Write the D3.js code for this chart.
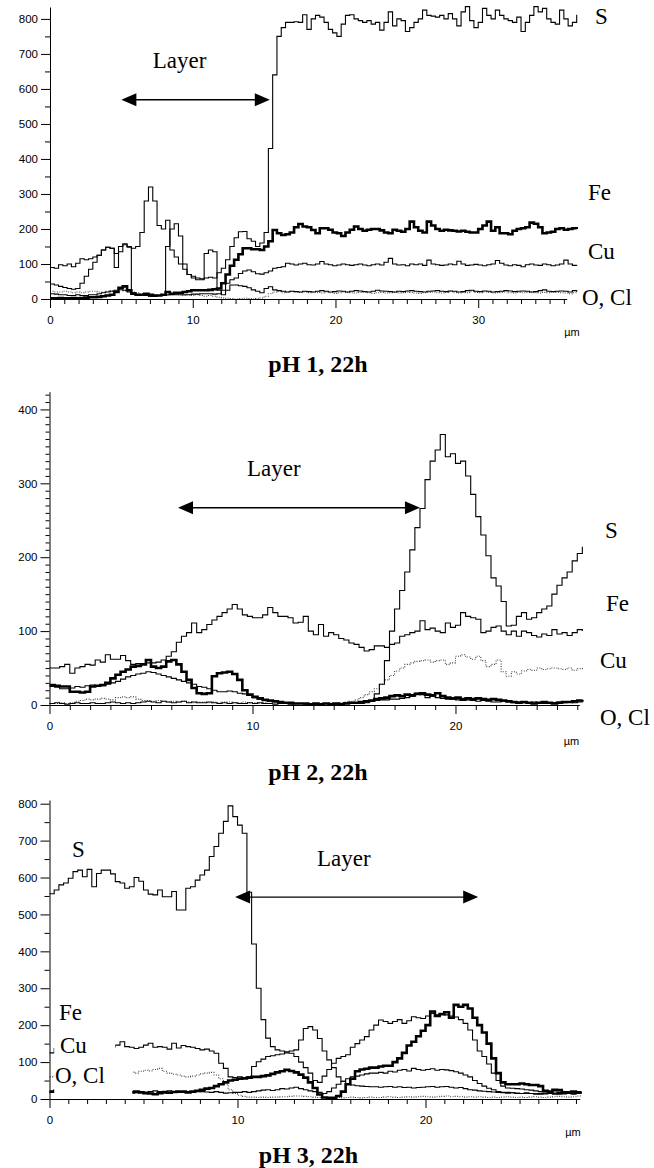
<!DOCTYPE html>
<html>
<head>
<meta charset="utf-8">
<script src="https://cdn.jsdelivr.net/npm/d3@7"></script>
<style>
  html, body { margin: 0; padding: 0; background: #fff; }
</style>
</head>
<body>
<div id="container"></div>
<script>
const width = 654, height = 1168;

// --- Data: EDX line scans, counts vs. distance (µm) ---
// pH 1 panel, sampled every 0.3 µm
const P1_DX = 0.3;
const P1_S = [90, 88, 98, 95, 100, 92, 102, 115, 112, 115,
  120, 125, 140, 148, 145, 130, 150, 155, 148, 145,
  150, 190, 280, 320, 280, 210, 200, 225, 140, 120,
  100, 85, 70, 65, 60, 58, 60, 62, 60, 75,
  88, 112, 150, 175, 192, 193, 172, 165, 150, 160,
  190, 430, 640, 750, 775, 790, 790, 792, 790, 812,
  770, 800, 810, 805, 790, 770, 760, 750, 785, 810,
  812, 800, 795, 790, 795, 785, 790, 768, 790, 820,
  780, 800, 795, 764, 775, 790, 800, 825, 810, 808,
  805, 810, 800, 815, 800, 780, 820, 835, 795, 775,
  790, 830, 810, 800, 825, 810, 800, 795, 790, 805,
  764, 790, 810, 835, 820, 830, 800, 790, 785, 825,
  800, 780, 790, 812];
const P1_FE = [2, 2, 3, 2, 2, 3, 2, 3, 4, 5,
  5, 6, 8, 10, 12, 20, 32, 36, 25, 15,
  12, 12, 15, 12, 10, 10, 12, 20, 15, 18,
  18, 20, 22, 25, 25, 25, 25, 26, 28, 30,
  45, 70, 95, 112, 128, 145, 145, 142, 142, 140,
  150, 165, 197, 188, 183, 185, 190, 205, 214, 207,
  205, 197, 188, 202, 202, 198, 190, 188, 180, 190,
  198, 207, 200, 195, 198, 200, 200, 196, 190, 188,
  198, 195, 192, 200, 221, 205, 195, 190, 221, 210,
  200, 195, 198, 196, 195, 193, 195, 192, 190, 190,
  200, 210, 221, 195, 205, 188, 188, 185, 195, 200,
  202, 205, 218, 215, 205, 188, 190, 192, 200, 202,
  198, 200, 202, 200];
const P1_CU = [15, 14, 12, 12, 10, 10, 12, 10, 10, 12,
  12, 15, 18, 20, 22, 25, 28, 25, 20, 15,
  12, 10, 10, 8, 8, 10, 10, 12, 12, 12,
  12, 12, 12, 14, 14, 15, 15, 15, 14, 15,
  25, 45, 55, 60, 73, 80, 83, 78, 72, 71,
  75, 80, 88, 90, 92, 102, 100, 97, 100, 102,
  98, 97, 100, 107, 100, 98, 95, 97, 100, 98,
  96, 98, 100, 97, 95, 98, 100, 97, 105, 116,
  100, 97, 98, 95, 100, 98, 100, 96, 111, 100,
  98, 96, 97, 100, 98, 108, 100, 96, 97, 99,
  97, 95, 98, 100, 110, 102, 97, 95, 98, 96,
  92, 98, 100, 97, 96, 100, 98, 95, 97, 100,
  111, 100, 96, 95];
const P1_O = [22, 20, 20, 22, 20, 18, 20, 18, 20, 22,
  22, 20, 20, 22, 24, 22, 25, 24, 22, 20,
  18, 15, 12, 10, 12, 10, 12, 10, 12, 14,
  12, 10, 12, 10, 12, 10, 8, 10, 8, 5,
  3, 2, 1, 0, 1, 2, 1, 0, 1, 3,
  8, 15, 20, 22, 18, 20, 22, 20, 19, 20,
  18, 20, 19, 17, 20, 18, 16, 18, 20, 19,
  18, 17, 19, 20, 18, 16, 18, 19, 17, 18,
  19, 17, 18, 20, 19, 17, 16, 18, 19, 20,
  18, 17, 19, 21, 18, 17, 19, 18, 22, 19,
  18, 20, 19, 17, 18, 19, 20, 18, 17, 19,
  18, 19, 20, 18, 17, 19, 18, 20, 19, 18,
  17, 15, 18, 19];
const P1_CL = [43, 40, 36, 33, 30, 28, 30, 45, 65, 85,
  105, 125, 140, 148, 145, 90, 135, 158, 150, 18,
  12, 10, 10, 8, 8, 10, 12, 150, 200, 215,
  180, 100, 70, 60, 55, 55, 130, 140, 135, 25,
  12, 25, 40, 40, 38, 36, 32, 26, 22, 18,
  30, 35, 26, 24, 22, 20, 22, 21, 20, 22,
  21, 20, 22, 24, 22, 20, 21, 23, 22, 20,
  22, 24, 23, 21, 20, 22, 25, 23, 22, 21,
  20, 22, 21, 23, 24, 22, 21, 20, 22, 23,
  24, 22, 21, 23, 22, 20, 21, 24, 25, 22,
  21, 23, 22, 20, 21, 22, 24, 23, 21, 22,
  23, 22, 20, 21, 24, 26, 22, 21, 22, 23,
  22, 20, 24, 21];

// pH 2 panel, sampled every 0.25 µm
const P2_DX = 0.25;
const P2_S = [2, 3, 2, 1, 2, 3, 2, 2, 3, 2,
  2, 3, 4, 3, 2, 3, 2, 3, 4, 5,
  4, 3, 5, 4, 3, 4, 5, 3, 4, 3,
  3, 4, 3, 2, 3, 2, 3, 2, 2, 3,
  2, 3, 2, 2, 1, 2, 2, 1, 2, 2,
  1, 2, 2, 1, 2, 1, 2, 2, 3, 2,
  2, 2, 3, 5, 15, 28, 60, 100, 130, 155,
  180, 210, 240, 266, 305, 330, 345, 366, 336, 340,
  327, 330, 310, 285, 255, 230, 202, 172, 161, 140,
  107, 108, 120, 125, 116, 118, 125, 130, 134, 150,
  162, 172, 180, 195, 205, 214];
const P2_FE = [50, 50, 52, 55, 43, 50, 52, 55, 54, 61,
  58, 68, 62, 62, 67, 60, 55, 56, 55, 57,
  57, 58, 61, 66, 72, 85, 93, 98, 111, 98,
  102, 109, 115, 120, 125, 130, 136, 130, 122, 120,
  118, 118, 122, 132, 125, 120, 120, 118, 111, 112,
  120, 100, 95, 109, 93, 98, 95, 90, 88, 84,
  82, 78, 73, 75, 80, 80, 78, 82, 84, 93,
  95, 98, 100, 114, 102, 104, 100, 98, 111, 105,
  108, 125, 120, 118, 116, 98, 100, 105, 107, 100,
  95, 100, 93, 100, 98, 94, 92, 96, 94, 102,
  96, 98, 94, 98, 102, 100];
const P2_CU = [2, 2, 3, 2, 3, 5, 6, 8, 7, 8,
  9, 8, 7, 10, 11, 10, 11, 8, 6, 6,
  5, 6, 5, 4, 5, 4, 5, 4, 3, 4,
  4, 3, 4, 3, 4, 4, 3, 3, 4, 3,
  3, 2, 3, 2, 2, 3, 2, 2, 1, 2,
  2, 1, 2, 2, 2, 3, 2, 3, 4, 5,
  7, 10, 14, 18, 22, 28, 34, 40, 46, 50,
  55, 57, 59, 60, 61, 58, 60, 61, 55, 57,
  66, 68, 65, 62, 66, 60, 52, 55, 61, 45,
  39, 45, 42, 46, 48, 47, 50, 48, 49, 50,
  49, 48, 50, 47, 49, 50];
const P2_O = [27, 26, 25, 25, 18, 18, 17, 18, 25, 26,
  27, 30, 36, 41, 45, 48, 52, 53, 55, 61,
  52, 50, 52, 59, 61, 55, 45, 34, 23, 16,
  15, 16, 39, 43, 44, 45, 42, 34, 20, 14,
  11, 9, 7, 6, 5, 4, 3, 3, 2, 2,
  2, 1, 2, 1, 2, 1, 2, 1, 2, 3,
  3, 4, 5, 6, 8, 9, 10, 12, 13, 12,
  14, 13, 15, 16, 14, 13, 16, 12, 10, 9,
  10, 8, 9, 8, 9, 8, 7, 8, 7, 6,
  5, 4, 3, 4, 3, 2, 3, 4, 3, 2,
  3, 4, 4, 5, 6, 7];
const P2_CL = [25, 24, 22, 22, 23, 25, 24, 26, 27, 25,
  26, 28, 30, 32, 35, 38, 40, 42, 43, 45,
  44, 42, 40, 38, 36, 34, 32, 30, 28, 25,
  24, 22, 20, 18, 18, 19, 18, 16, 15, 13,
  10, 8, 6, 5, 4, 3, 3, 2, 2, 2,
  2, 2, 1, 1, 2, 1, 1, 2, 2, 2,
  2, 3, 4, 5, 6, 7, 7, 8, 8, 9,
  10, 12, 16, 14, 10, 12, 10, 9, 8, 8,
  7, 6, 7, 6, 5, 6, 5, 4, 4, 5,
  4, 3, 4, 3, 3, 4, 3, 2, 3, 3,
  4, 3, 4, 3, 4, 5];

// pH 3 panel, sampled every 0.25 µm
const P3_DX = 0.25;
const P3_S = [556, 566, 580, 585, 598, 616, 620, 602, 622, 575,
  611, 620, 620, 610, 589, 585, 571, 575, 600, 590,
  566, 555, 553, 566, 548, 548, 562, 512, 512, 571,
  575, 593, 607, 620, 657, 684, 720, 752, 794, 765,
  742, 720, 560, 420, 300, 215, 165, 142, 133, 130,
  125, 124, 115, 100, 85, 70, 50, 45, 62, 80,
  97, 110, 115, 120, 140, 150, 160, 169, 187, 200,
  214, 210, 205, 210, 215, 205, 212, 223, 220, 218,
  225, 232, 228, 230, 228, 225, 222, 215, 205, 187,
  160, 130, 115, 95, 70, 50, 35, 30, 29, 28,
  27, 25, 24, 22, 20, 21, 20, 19, 18, 18,
  17, 18, 20, 22];
const P3_FE = [125, 137, 140, 138, 142, 140, 145, 138, 140, 142,
  140, 143, 138, 141, 146, 155, 142, 140, 137, 140,
  146, 151, 140, 142, 140, 135, 151, 138, 145, 142,
  140, 137, 133, 135, 130, 124, 97, 83, 60, 58,
  60, 58, 60, 88, 101, 108, 115, 117, 120, 122,
  128, 130, 133, 160, 191, 196, 187, 164, 130, 106,
  85, 60, 48, 42, 38, 36, 35, 34, 33, 33,
  32, 33, 34, 32, 33, 31, 32, 30, 31, 32,
  33, 34, 32, 33, 34, 32, 30, 31, 28, 25,
  24, 22, 21, 20, 19, 18, 17, 16, 17, 16,
  15, 16, 15, 14, 15, 16, 15, 14, 15, 16,
  15, 14, 16, 15];
const P3_CU = [60, 62, 65, 64, 66, 68, 70, 68, 70, 72,
  72, 70, 73, 72, 74, 72, 73, 73, 70, 75,
  78, 76, 80, 83, 75, 70, 67, 65, 62, 60,
  62, 65, 68, 70, 72, 65, 55, 40, 25, 15,
  10, 7, 5, 5, 4, 5, 4, 5, 5, 6,
  6, 7, 8, 8, 7, 6, 5, 4, 3, 3,
  3, 4, 3, 4, 5, 4, 3, 4, 5, 4,
  4, 5, 6, 5, 4, 5, 6, 5, 6, 7,
  6, 5, 6, 7, 8, 6, 7, 6, 5, 6,
  5, 6, 5, 4, 5, 4, 5, 6, 5, 4,
  5, 4, 5, 6, 5, 4, 5, 6, 7, 6,
  5, 6, 8, 7];
const P3_O = [20, 22, 20, 19, 20, 21, 20, 19, 20, 21,
  20, 19, 20, 18, 20, 19, 20, 18, 20, 18,
  16, 15, 13, 16, 18, 17, 19, 20, 20, 18,
  20, 22, 25, 28, 30, 35, 40, 45, 50, 52,
  55, 56, 58, 60, 60, 62, 64, 68, 72, 75,
  79, 76, 72, 66, 58, 45, 30, 12, 4, 3,
  3, 8, 20, 40, 55, 75, 80, 82, 85, 85,
  88, 90, 90, 100, 110, 125, 145, 155, 170, 185,
  200, 237, 225, 230, 235, 220, 255, 250, 255, 245,
  220, 200, 180, 150, 110, 70, 45, 40, 40, 40,
  42, 40, 38, 38, 35, 22, 20, 25, 24, 18,
  18, 20, 18, 20];
const P3_CL = [18, 20, 18, 19, 20, 18, 19, 20, 18, 19,
  20, 18, 19, 20, 18, 19, 20, 18, 17, 18,
  18, 20, 22, 20, 21, 22, 20, 19, 18, 20,
  20, 21, 20, 19, 18, 20, 18, 16, 17, 18,
  18, 20, 18, 20, 22, 24, 25, 23, 25, 28,
  27, 30, 32, 28, 25, 22, 20, 18, 15, 20,
  30, 40, 48, 55, 60, 62, 65, 68, 70, 70,
  72, 70, 75, 73, 78, 80, 76, 83, 80, 78,
  80, 82, 78, 80, 79, 77, 74, 70, 65, 60,
  50, 42, 35, 29, 25, 20, 18, 18, 17, 15,
  15, 16, 15, 14, 13, 14, 15, 14, 13, 14,
  15, 14, 16, 17];

const CAPTIONS = ["pH 1, 22h", "pH 2, 22h", "pH 3, 22h"];
const ELEMENT_LABELS = ["S", "Fe", "Cu", "O, Cl"];

// --- Line styles ---
const STYLE = {
  thin:   { w: 1.1, c: "#000", dash: null },
  thick:  { w: 2.6, c: "#000", dash: null },
  dotted: { w: 1.1, c: "#444", dash: "1,1.5" },
};

const SERIF = "'Liberation Serif', 'Times New Roman', serif";
const SANS = "'Liberation Sans', Arial, sans-serif";

const panels = [
  {
    left: 50, right: 566.7, top: 7, bottom: 299, xMax: 36.2, yMax: 834, dx: P1_DX,
    yMinor: 50, yMinorLen: 5,
    series: [
      { v: P1_O, s: "dotted" }, { v: P1_CL, s: "thin" }, { v: P1_CU, s: "thin" },
      { v: P1_S, s: "thin" }, { v: P1_FE, s: "thick" },
    ],
    layer: { x: 7.2, y: 660 }, arrow: { x1: 5.0, x2: 15.4, y: 569 },
    labels: [[595, 24], [588, 200], [588, 259], [582, 305]],
    caption: [318, 372], mu: [572, 336], masks: [],
  },
  {
    left: 49.5, right: 579.3, top: 391.7, bottom: 705, xMax: 26.1, yMax: 424, dx: P2_DX,
    yMinor: 10, yMinorLen: 4,
    series: [
      { v: P2_CU, s: "dotted" }, { v: P2_CL, s: "thin" }, { v: P2_FE, s: "thin" },
      { v: P2_S, s: "thin" }, { v: P2_O, s: "thick" },
    ],
    layer: { x: 9.73, y: 310 }, arrow: { x1: 6.33, x2: 18.25, y: 267 },
    labels: [[605, 538], [606, 611], [600, 668], [600, 725]],
    caption: [318, 780], mu: [571.5, 745], masks: [],
  },
  {
    left: 49.5, right: 579.7, top: 800, bottom: 1099, xMax: 28.2, yMax: 810, dx: P3_DX,
    yMinor: 50, yMinorLen: 5,
    series: [
      { v: P3_CU, s: "dotted" }, { v: P3_CL, s: "thin" }, { v: P3_FE, s: "thin" },
      { v: P3_S, s: "thin" }, { v: P3_O, s: "thick" },
    ],
    layer: { x: 14.23, y: 631 }, arrow: { x1: 9.87, x2: 22.8, y: 547 },
    labels: [[72, 857], [59, 1020], [60, 1053], [55, 1083]],
    caption: [308.5, 1163], mu: [573, 1136],
    // white boxes behind the left-hand labels (they hide the line starts)
    masks: [[0.25, 3.5, 100, 262], [0.25, 4.4, 6, 100]],
  },
];

const svg = d3.select("#container")
  .append("svg").attr("width", width).attr("height", height)
  .style("display", "block").style("background", "#fff");

function drawArrow(g, xa, xb, yy) {
  const hl = 15, hw = 6.5;
  g.append("line")
    .attr("x1", xa + hl - 1).attr("x2", xb - hl + 1)
    .attr("y1", yy).attr("y2", yy)
    .attr("stroke", "#000").attr("stroke-width", 1.4);
  g.append("path")
    .attr("d", `M${xa},${yy}L${xa + hl},${yy - hw}L${xa + hl},${yy + hw}Z`)
    .attr("fill", "#000");
  g.append("path")
    .attr("d", `M${xb},${yy}L${xb - hl},${yy - hw}L${xb - hl},${yy + hw}Z`)
    .attr("fill", "#000");
}

panels.forEach((p, pi) => {
  const x = d3.scaleLinear().domain([0, p.xMax]).range([p.left, p.right]);
  const y = d3.scaleLinear().domain([0, p.yMax]).range([p.bottom, p.top]);
  const g = svg.append("g");

  // --- Line scans ---
  const line = d3.line()
    .x((d) => x(d[0]))
    .y((d) => y(d[1]))
    .curve(d3.curveStepAfter);
  p.series.forEach((s) => {
    const st = STYLE[s.s];
    g.append("path")
      .datum(s.v.map((v, i) => [i * p.dx, v]))
      .attr("fill", "none")
      .attr("stroke", st.c)
      .attr("stroke-width", st.w)
      .attr("stroke-dasharray", st.dash)
      .attr("d", line);
  });

  // --- Label masks ---
  p.masks.forEach(([x0, x1, y0, y1]) => {
    g.append("rect")
      .attr("x", x(x0)).attr("y", y(y1))
      .attr("width", x(x1) - x(x0)).attr("height", y(y0) - y(y1))
      .attr("fill", "#fff");
  });

  // --- Axes ---
  const yMajor = d3.range(0, p.yMax, 100);
  const yMinor = d3.range(0, p.yMax, p.yMinor).filter((v) => v % 100 !== 0);
  const xMajor = d3.range(0, p.xMax, 10);
  const xMinor = d3.range(0, p.xMax, 1).filter((v) => v % 10 !== 0);

  const yAx = g.append("g").attr("transform", `translate(${p.left},0)`)
    .call(d3.axisLeft(y).tickValues(yMajor).tickSize(9).tickSizeOuter(0).tickPadding(3)
      .tickFormat(d3.format("d")));
  g.append("g").attr("transform", `translate(${p.left},0)`)
    .call(d3.axisLeft(y).tickValues(yMinor).tickSize(p.yMinorLen).tickFormat(""))
    .call((a) => a.select(".domain").remove());

  const xAx = g.append("g").attr("transform", `translate(0,${p.bottom})`)
    .call(d3.axisBottom(x).tickValues(xMajor).tickSize(9).tickSizeOuter(0).tickPadding(8)
      .tickFormat(d3.format("d")));
  g.append("g").attr("transform", `translate(0,${p.bottom})`)
    .call(d3.axisBottom(x).tickValues(xMinor).tickSize(5).tickFormat(""))
    .call((a) => a.select(".domain").remove());

  for (const ax of [yAx, xAx]) {
    ax.attr("font-family", SANS).attr("font-size", 11.5);
    ax.selectAll("text").attr("fill", "#000");
    ax.select(".domain").attr("stroke", "#000").attr("stroke-width", 1);
  }
  g.selectAll(".tick line").attr("stroke", "#000");

  // unit label
  g.append("text")
    .attr("x", p.mu[0]).attr("y", p.mu[1])
    .attr("text-anchor", "middle")
    .attr("font-family", SANS).attr("font-size", 11)
    .text("µm");

  // --- Layer annotation ---
  g.append("text")
    .attr("x", x(p.layer.x)).attr("y", y(p.layer.y))
    .attr("font-family", SERIF).attr("font-size", 23)
    .text("Layer");
  drawArrow(g, x(p.arrow.x1), x(p.arrow.x2), y(p.arrow.y));

  // --- Element labels ---
  p.labels.forEach(([lx, ly], i) => {
    g.append("text")
      .attr("x", lx).attr("y", ly)
      .attr("font-family", SERIF).attr("font-size", 23)
      .text(ELEMENT_LABELS[i]);
  });

  // --- Caption ---
  g.append("text")
    .attr("x", p.caption[0]).attr("y", p.caption[1])
    .attr("text-anchor", "middle")
    .attr("font-family", SERIF).attr("font-size", 24).attr("font-weight", "bold")
    .text(CAPTIONS[pi]);
});
</script>
</body>
</html>
